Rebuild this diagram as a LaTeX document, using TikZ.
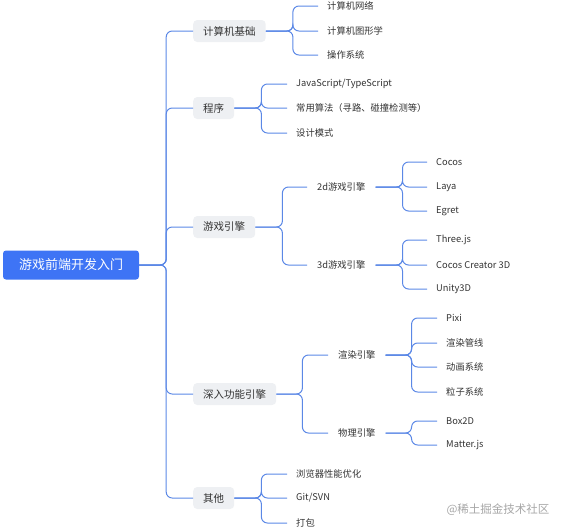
\documentclass[tikz,border=0pt]{standalone}
\usepackage{fontspec}
\setmainfont{Noto Sans CJK SC}
\definecolor{rootblue}{HTML}{3E74F5}
\definecolor{linkblue}{HTML}{5B88E6}
\definecolor{topicgray}{HTML}{EEF0F3}
\definecolor{inkgray}{HTML}{333333}
\tikzset{
  link/.style={draw=linkblue,line width=1pt,rounded corners=6pt},
  rootbox/.style={fill=rootblue,text=white,rounded corners=3pt,minimum width=136pt,minimum height=29pt,font=\fontsize{13}{15}\selectfont},
  topic/.style={fill=topicgray,text=inkgray,rounded corners=4pt,anchor=west,inner xsep=10pt,minimum height=22pt,font=\fontsize{10.5}{12}\selectfont},
  sub/.style={text=inkgray,anchor=west,inner xsep=10pt,font=\fontsize{9.3}{11}\selectfont},
  leaf/.style={text=inkgray,anchor=west,inner xsep=9pt,inner ysep=1pt,font=\fontsize{9.3}{11}\selectfont},
  credit/.style={text=black!35,font=\fontsize{11.5}{13}\selectfont}
}
\begin{document}
\begin{tikzpicture}[x=1pt,y=-1pt]
    \useasboundingbox (0,0) rectangle (567,531);
    \node[rootbox] (root) at (71,265) {游戏前端开发入门};

    \node[topic] (base) at (193,31) {计算机基础};
    \node[topic] (prog) at (193,108) {程序};
    \node[topic] (engine) at (193,227) {游戏引擎};
    \node[topic] (deep) at (193,394) {深入功能引擎};
    \node[topic] (other) at (193,498) {其他};
    \foreach \n in {base,prog,engine,deep,other} {
      \draw[link] (root.east) -- ++(27,0) |- (\n.west);
    };

    \foreach \n/\y/\t in {net/6/计算机网络,cg/31/计算机图形学,os/55/操作系统} {
      \node[leaf] (\n) at (318,\y) {\t};
      \draw[link] (base.east) -- ++(27,0) |- (\n.west);
    };
    \foreach \n/\y/\t in {js/84/{JavaScript/TypeScript},algo/108/常用算法（寻路、碰撞检测等）,pattern/133/设计模式} {
      \node[leaf] (\n) at (287,\y) {\t};
      \draw[link] (prog.east) -- ++(27,0) |- (\n.west);
    };

    \node[sub] (twod) at (307,187) {2d游戏引擎};
    \node[sub] (threed) at (307,265) {3d游戏引擎};
    \draw[link] (engine.east) -- ++(27,0) |- (twod.west);
    \draw[link] (engine.east) -- ++(27,0) |- (threed.west);
    \foreach \n/\y/\t in {cocos/162/Cocos,laya/187/Laya,egret/211/Egret} {
      \node[leaf] (\n) at (427,\y) {\t};
      \draw[link] (twod.east) -- ++(27,0) |- (\n.west);
    };
    \foreach \n/\y/\t in {three/240/Three.js,creator/265/Cocos Creator 3D,unity/289/Unity3D} {
      \node[leaf] (\n) at (427,\y) {\t};
      \draw[link] (threed.east) -- ++(27,0) |- (\n.west);
    };

    \node[sub] (render) at (328,355) {渲染引擎};
    \node[sub] (physics) at (328,433) {物理引擎};
    \draw[link] (deep.east) -- ++(26,0) |- (render.west);
    \draw[link] (deep.east) -- ++(26,0) |- (physics.west);
    \foreach \n/\y/\t in {pixi/318/Pixi,pipe/343/渲染管线,anim/367/动画系统,particle/392/粒子系统} {
      \node[leaf] (\n) at (437,\y) {\t};
      \draw[link] (render.east) -- ++(26,0) |- (\n.west);
    };
    \foreach \n/\y/\t in {box/421/Box2D,matter/445/Matter.js} {
      \node[leaf] (\n) at (437,\y) {\t};
      \draw[link] (physics.east) -- ++(26,0) |- (\n.west);
    };

    \foreach \n/\y/\t in {perf/474/浏览器性能优化,vcs/498/{Git/SVN},pack/523/打包} {
      \node[leaf] (\n) at (287,\y) {\t};
      \draw[link] (other.east) -- ++(27,0) |- (\n.west);
    };

    \node[credit] (credit) at (498,510) {@稀土掘金技术社区};
\end{tikzpicture}
\end{document}
